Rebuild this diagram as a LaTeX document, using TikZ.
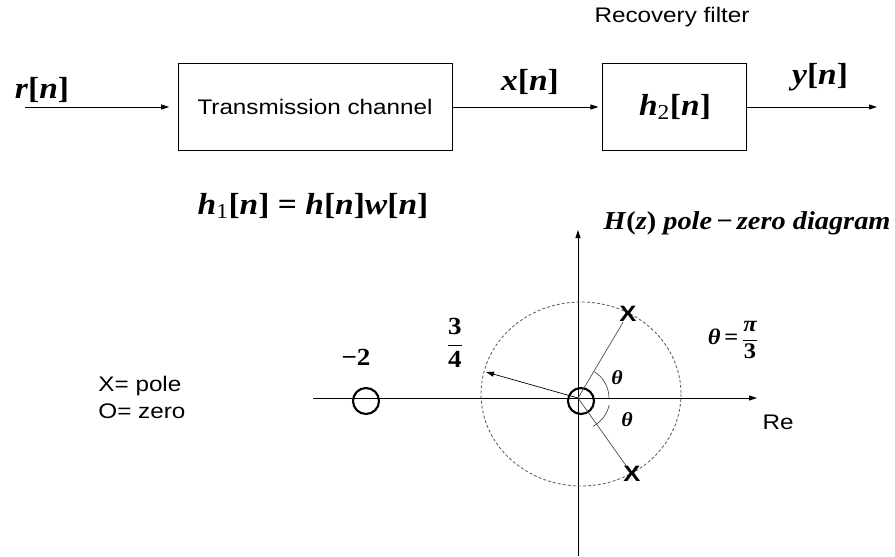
\documentclass[tikz,border=0pt]{standalone}
\usepackage{fontspec}
\setsansfont[FakeStretch=1.15]{Liberation Sans}
\newfontfamily\sigfont[FakeStretch=1.1]{Liberation Serif}
\usetikzlibrary{positioning, arrows.meta}

\begin{document}
\begin{tikzpicture}[
    x=0.03cm, y=-0.03cm,
    >={Triangle[length=0.24cm, width=0.15cm]},
    line width=0.8pt,
    block/.style={draw, line width=0.8pt, minimum height=2.61cm, font=\fontsize{18}{22}\selectfont\sffamily},
    signal/.style={font=\fontsize{26}{30}\selectfont\sigfont\bfseries, inner sep=0pt},
    caption/.style={font=\fontsize{18}{23}\selectfont\sffamily, inner sep=0pt},
    zero/.style={circle, draw, line width=1.8pt, minimum size=0.78cm, inner sep=0pt},
    pole/.style={font=\fontsize{19}{22}\selectfont\sffamily\bfseries, inner sep=0pt},
    unit/.style={draw, gray!70!black, dash pattern=on 2.5pt off 1.8pt, line width=0.7pt},
    angle/.style={draw, gray!60!black, line width=0.6pt}
]
\useasboundingbox (0,0) rectangle (895,556);

% -------------------------
% BLOCK DIAGRAM
% -------------------------
\node[block, minimum width=8.22cm] (Channel) at (315,107) {Transmission channel};

\node[block, signal, minimum width=4.32cm, minimum height=2.61cm] (Filter) [right=4.5cm of Channel] {
    \textit{h}\textsubscript{\mdseries 2}[\textit{n}]
};

\node[caption] (FilterName) at (672,17) {Recovery filter};

\node[signal] (InLabel) at (42,90) {\textit{r}[\textit{n}]};
\node[signal] (MidLabel) at (530,82) {\textit{x}[\textit{n}]};
\node[signal] (OutLabel) at (820,77) {\textit{y}[\textit{n}]};

\node[signal] (Impulse) at (313,206) {
    \textit{h}\textsubscript{\mdseries 1}[\textit{n}] = \textit{h}[\textit{n}]\textit{w}[\textit{n}]
};

\coordinate (InStart) at (25,107);
\coordinate (OutEnd) at (877,107);

% Signal path
\draw[->, shorten >=0.25cm] (InStart) -- (Channel.west);
\draw[->, shorten >=0.12cm] (Channel.east) -- (Filter.west);
\draw[->] (Filter.east) -- (OutEnd);

% -------------------------
% POLE-ZERO DIAGRAM
% -------------------------
\coordinate (Origin) at (578,398);
\coordinate (ReLeft) at (313,398);
\coordinate (ReRight) at (757,398);
\coordinate (ImTop) at (578,230);
\coordinate (ImBottom) at (578,556);
\coordinate (RadiusTip) at (486,372);

\draw[->, line width=0.7pt] (ReLeft) -- (ReRight);
\draw[->, line width=0.7pt] (ImBottom) -- (ImTop);

\draw[unit] (581,394) ellipse [x radius=100, y radius=92];

\node[zero] (ZeroLeft) at (366,401) {};
\node[zero] (ZeroOrigin) at (581,401) {};
\node[pole] (PoleUp) at (628,314) {X};
\node[pole] (PoleDown) at (632,474) {X};

\draw[angle] (Origin) -- (PoleUp);
\draw[angle] (Origin) -- (PoleDown);
\draw[angle] (Origin) ++(0:31) arc[start angle=0, end angle=-58, radius=31];
\draw[angle] (Origin) ++(13:32) arc[start angle=13, end angle=62, radius=32];
\draw[->, line width=0.6pt] (Origin) -- (RadiusTip);

\node[signal, font=\fontsize{17}{18}\selectfont\sigfont\bfseries] (ThetaUp) at (617,378) {\textit{θ}};
\node[signal, font=\fontsize{17}{18}\selectfont\sigfont\bfseries] (ThetaDown) at (627,420) {\textit{θ}};

\node[signal, font=\fontsize{21}{22}\selectfont\sigfont\bfseries] (MinusTwo) at (356,357) {−2};
\node[signal, font=\fontsize{21}{22}\selectfont\sigfont\bfseries] (ThreeFour) at (455,343) {
    $\displaystyle\frac{\hbox{3}}{\hbox{4}}$
};
\node[signal, font=\fontsize{19}{20}\selectfont\sigfont\bfseries] (ThetaValue) at (733,340) {
    \textit{θ}\,=\,$\displaystyle\frac{\hbox{\itshape π}}{\hbox{3}}$
};
\node[signal, font=\fontsize{22}{24}\selectfont\sigfont\bfseries, anchor=east] (PZTitle) at (891,223) {
    \textit{H}(\textit{z}) \textit{pole}\,−\,\textit{zero diagram}
};

\node[caption, align=left, anchor=west] (Legend) at (98,397) {X= pole\\O= zero};
\node[caption] (ReLabel) at (778,422) {Re};

\end{tikzpicture}
\end{document}
